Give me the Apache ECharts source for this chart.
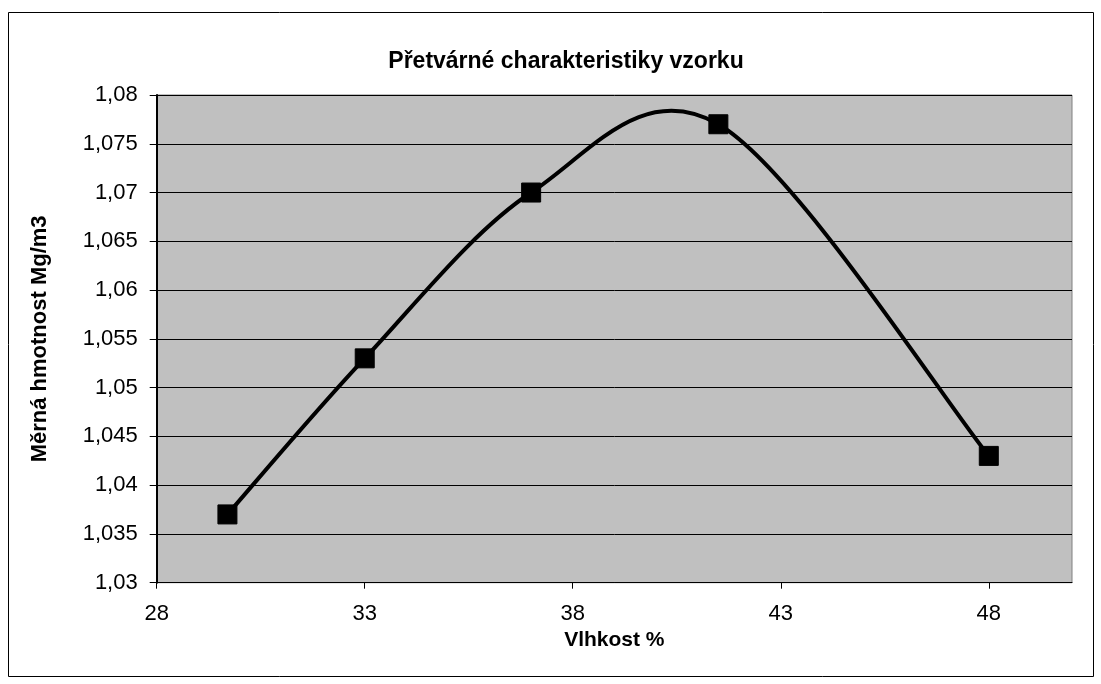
<!DOCTYPE html>
<html>
<head>
<meta charset="utf-8">
<script src="https://cdn.jsdelivr.net/npm/echarts@6/dist/echarts.min.js"></script>
<style>html,body{margin:0;padding:0;background:#fff}#c{width:1101px;height:684px}</style>
</head>
<body>
<div id="c"></div>
<script>
const titleText = 'Přetvárné charakteristiky vzorku';
const xTitle = 'Vlhkost %';
const yTitle = 'Měrná hmotnost Mg/m3';
const moisture = [29.7, 33.0, 37.0, 41.5, 48.0];
const density = [1.037, 1.053, 1.070, 1.077, 1.043];

const FONT = 'Liberation Sans, Arial, sans-serif';
const chart = echarts.init(document.getElementById('c'), null, {renderer: 'canvas'});
const fmtY = v => {
  let s = v.toFixed(3);
  s = s.replace(/0+$/, '').replace(/\.$/, '');
  return s.replace('.', ',');
};
const pairs = moisture.map((x, i) => [x, density[i]]);

// Smooth curve through the data points (cardinal spline, as in spreadsheet charts),
// positioned with the chart's own coordinate system.
function renderCurve(params, api) {
  if (params.dataIndex !== 0) return null;
  const p = pairs.map(d => api.coord(d));
  const n = p.length;
  const children = [];
  for (let i = 0; i < n - 1; i++) {
    const p0 = p[Math.max(i - 1, 0)], p1 = p[i], p2 = p[i + 1], p3 = p[Math.min(i + 2, n - 1)];
    children.push({
      type: 'bezierCurve',
      shape: {
        x1: p1[0], y1: p1[1], x2: p2[0], y2: p2[1],
        cpx1: p1[0] + (p2[0] - p0[0]) / 6, cpy1: p1[1] + (p2[1] - p0[1]) / 6,
        cpx2: p2[0] - (p3[0] - p1[0]) / 6, cpy2: p2[1] - (p3[1] - p1[1]) / 6
      },
      style: {stroke: '#000', lineWidth: 4, fill: null, lineCap: 'round', lineJoin: 'round'}
    });
  }
  return {type: 'group', children: children};
}

chart.setOption({
  animation: false,
  backgroundColor: '#ffffff',
  textStyle: {fontFamily: FONT},
  title: {
    text: titleText, left: 561, top: 45, textAlign: 'center',
    textStyle: {fontFamily: FONT, fontWeight: 'bold', fontSize: 23, color: '#000'}
  },
  graphic: [{
    type: 'rect', shape: {x: 8.5, y: 12.5, width: 1085, height: 664},
    style: {fill: 'none', stroke: '#000', lineWidth: 1}, z: -1
  }],
  grid: {left: 156.7, top: 95, right: 29, bottom: 101.3, show: true, backgroundColor: '#c0c0c0', borderColor: '#808080', borderWidth: 1},
  xAxis: {
    type: 'value', min: 28, max: 50, interval: 5,
    name: xTitle, nameLocation: 'middle', nameGap: 42,
    nameTextStyle: {fontWeight: 'bold', fontSize: 21, color: '#000', fontFamily: FONT},
    axisLine: {show: true, lineStyle: {color: '#000', width: 1}},
    axisTick: {show: true, length: 6, inside: false, lineStyle: {color: '#000'}},
    axisLabel: {fontSize: 22, color: '#000', margin: 20, showMaxLabel: false, fontFamily: FONT},
    splitLine: {show: false}
  },
  yAxis: {
    type: 'value', min: 1.03, max: 1.08, interval: 0.005,
    name: yTitle, nameLocation: 'middle', nameGap: 106, nameRotate: 90,
    nameTextStyle: {fontWeight: 'bold', fontSize: 22, color: '#000', fontFamily: FONT},
    axisLine: {show: true, lineStyle: {color: '#000', width: 2}},
    axisTick: {show: true, length: 7, inside: false, lineStyle: {color: '#000'}},
    axisLabel: {fontSize: 22, color: '#000', margin: 19, formatter: fmtY, fontFamily: FONT},
    splitLine: {show: true, lineStyle: {color: '#000', width: 1}}
  },
  series: [{
    type: 'custom',
    data: pairs,
    renderItem: renderCurve,
    z: 2,
    silent: true
  }, {
    type: 'scatter',
    data: pairs,
    symbol: 'rect', symbolSize: 19,
    itemStyle: {color: '#000', borderColor: '#000', opacity: 1},
    z: 3
  }]
});
</script>
</body>
</html>
